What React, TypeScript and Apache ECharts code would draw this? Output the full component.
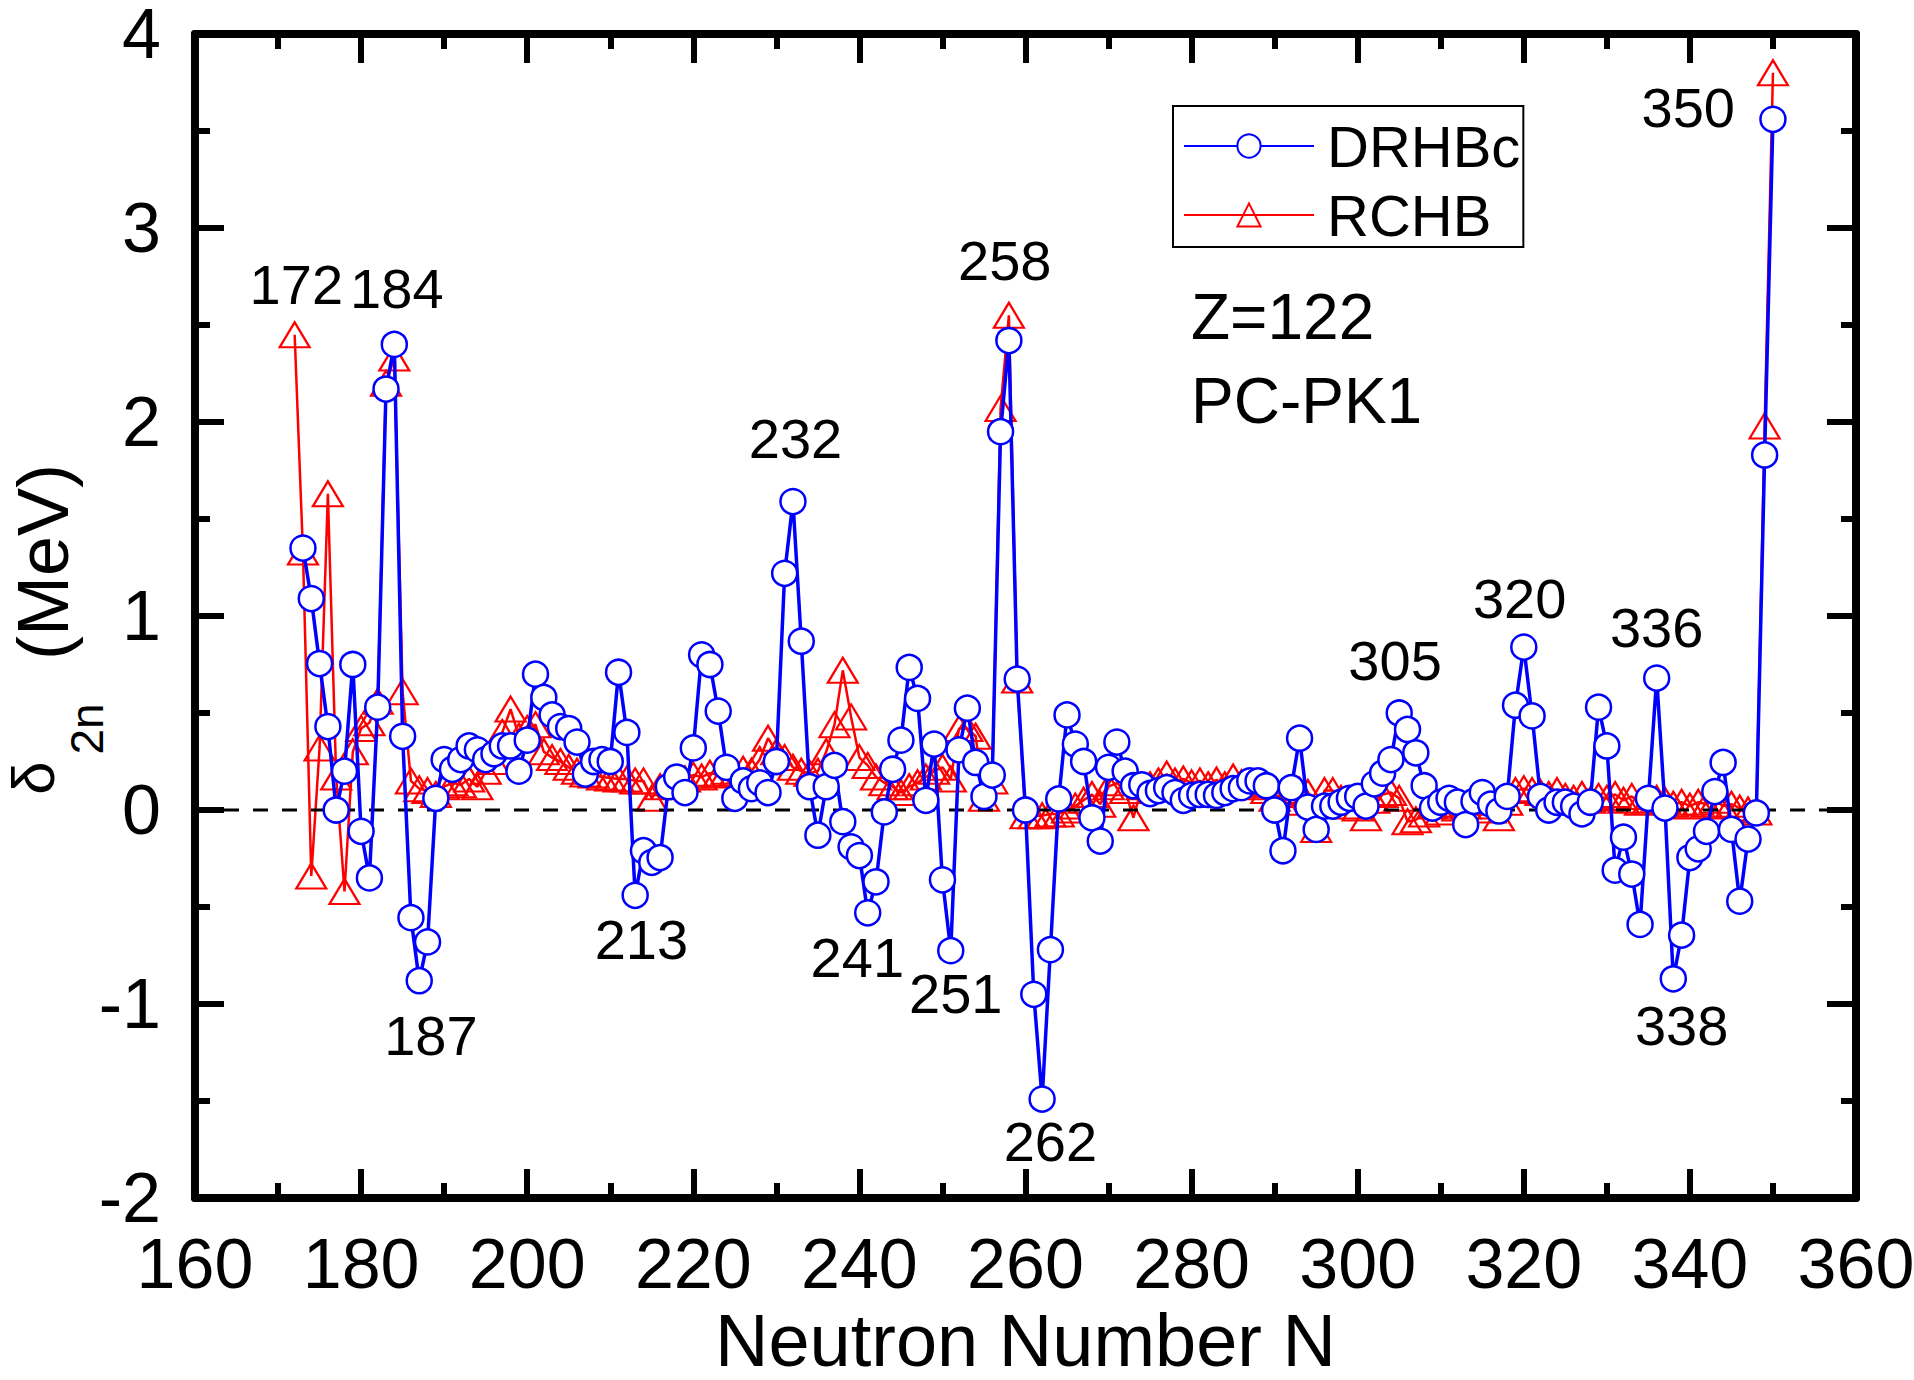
import React, { useEffect, useRef } from "react";
import * as echarts from "echarts";

const FONT = "'Liberation Sans', Arial, Helvetica, sans-serif";

// delta_2n (MeV) for Z=122, one value per neutron number
const drhbcFirstN = 173;
const drhbcValues = [
  1.35, 1.09, 0.755, 0.43, 0.0, 0.2, 0.75, -0.11, -0.35, 0.53, // 173-182
  2.17, 2.4, 0.38, -0.555, -0.88, -0.68, 0.06, 0.26, 0.21, 0.26, // 183-192
  0.33, 0.31, 0.26, 0.29, 0.33, 0.33, 0.2, 0.36, 0.7, 0.58, // 193-202
  0.49, 0.43, 0.42, 0.35, 0.185, 0.25, 0.26, 0.25, 0.71, 0.4, // 203-212
  -0.44, -0.21, -0.27, -0.245, 0.12, 0.17, 0.09, 0.32, 0.8, 0.75, // 213-222
  0.51, 0.22, 0.06, 0.15, 0.11, 0.14, 0.09, 0.25, 1.22, 1.59, // 223-232
  0.87, 0.12, -0.13, 0.12, 0.23, -0.06, -0.19, -0.235, -0.53, -0.37, // 233-242
  -0.01, 0.21, 0.36, 0.735, 0.575, 0.05, 0.34, -0.36, -0.725, 0.31, // 243-252
  0.525, 0.245, 0.07, 0.18, 1.95, 2.42, 0.675, 0.0, -0.95, -1.49, // 253-262
  -0.72, 0.057, 0.49, 0.34, 0.25, -0.04, -0.16, 0.22, 0.35, 0.2, // 263-272
  0.125, 0.13, 0.085, 0.1, 0.115, 0.09, 0.05, 0.075, 0.08, 0.08, // 273-282
  0.075, 0.09, 0.11, 0.115, 0.15, 0.15, 0.125, 0.0, -0.21, 0.115, // 283-292
  0.37, 0.015, -0.1, 0.02, 0.02, 0.04, 0.06, 0.07, 0.02, 0.135, // 293-302
  0.19, 0.26, 0.5, 0.415, 0.295, 0.125, 0.01, 0.04, 0.06, 0.04, // 303-312
  -0.075, 0.045, 0.09, 0.03, -0.005, 0.07, 0.54, 0.84, 0.485, 0.07, // 313-322
  0.0, 0.04, 0.04, 0.02, -0.02, 0.04, 0.53, 0.33, -0.31, -0.14, // 323-332
  -0.33, -0.59, 0.06, 0.68, 0.01, -0.87, -0.645, -0.245, -0.2, -0.11, // 333-342
  0.095, 0.245, -0.1, -0.47, -0.15, -0.015, 1.83, 3.56, // 343-350
];

const rchbFirstN = 172;
const rchbValues = [
  2.45, 1.33, -0.34, 0.32, 1.63, 0.17, -0.42, 0.3, 0.42, 0.45, // 172-181
  0.56, 2.2, 2.33, 0.61, 0.15, 0.11, 0.1, 0.08, 0.12, 0.14, // 182-191
  0.13, 0.16, 0.12, 0.2, 0.25, 0.4, 0.52, 0.38, 0.42, 0.44, // 192-201
  0.3, 0.27, 0.25, 0.22, 0.2, 0.185, 0.18, 0.17, 0.165, 0.16, // 202-211
  0.16, 0.15, 0.15, 0.06, 0.12, 0.14, 0.15, 0.16, 0.18, 0.17, // 212-221
  0.19, 0.18, 0.2, 0.19, 0.21, 0.2, 0.26, 0.37, 0.3, 0.27, // 222-231
  0.22, 0.2, 0.19, 0.2, 0.3, 0.44, 0.72, 0.48, 0.27, 0.23, // 232-241
  0.17, 0.14, 0.12, 0.09, 0.12, 0.14, 0.17, 0.2, 0.22, 0.16, // 242-251
  0.42, 0.42, 0.38, 0.06, 0.15, 2.07, 2.55, 0.67, -0.03, -0.03, // 252-261
  -0.03, -0.02, -0.02, 0.0, 0.02, 0.05, 0.08, 0.03, 0.12, 0.14, // 262-271
  0.1, -0.04, 0.12, 0.13, 0.15, 0.185, 0.15, 0.16, 0.14, 0.15, // 272-281
  0.13, 0.155, 0.13, 0.17, 0.14, 0.13, 0.12, 0.1, 0.06, 0.04, // 282-291
  0.08, 0.1, 0.09, -0.1, 0.1, 0.1, 0.06, 0.02, 0.01, -0.04, // 292-301
  0.05, 0.08, 0.09, 0.06, -0.06, -0.05, -0.02, 0.02, -0.01, 0.03, // 302-311
  0.01, 0.02, 0.02, 0.04, 0.0, -0.04, 0.04, 0.1, 0.11, 0.1, // 312-321
  0.09, 0.08, 0.1, 0.07, 0.06, 0.08, 0.05, 0.07, 0.06, 0.08, // 322-331
  0.05, 0.07, 0.04, 0.05, 0.06, 0.05, 0.03, 0.04, 0.02, 0.04, // 332-341
  0.03, 0.05, 0.02, 0.03, 0.01, 0.0, -0.01, 1.98, 3.8, // 342-350
];

// [N, delta, text] anchors of the magic-number annotations
const peakLabels: [number, number, string][] = [
  [172.2, 2.71, "172"],
  [184.3, 2.69, "184"],
  [188.4, -1.16, "187"],
  [213.75, -0.665, "213"],
  [232.3, 1.915, "232"],
  [239.75, -0.76, "241"],
  [251.6, -0.945, "251"],
  [257.5, 2.83, "258"],
  [263.0, -1.71, "262"],
  [304.5, 0.77, "305"],
  [319.5, 1.09, "320"],
  [336.0, 0.94, "336"],
  [339.0, -1.11, "338"],
  [339.8, 3.62, "350"],
];

const zeroLine = [
  [160, 0],
  [360, 0],
];

const toPairs = (firstN: number, values: number[]) =>
  values.map((v, i) => [firstN + i, v]);

const frameAxis = (showLabel: boolean) => ({
  axisLine: { show: true, onZero: false, lineStyle: { color: "#000", width: 8 } },
  axisTick: { show: true, inside: true, length: 29, lineStyle: { color: "#000", width: 6 } },
  minorTick: { show: true, splitNumber: 2, length: 15, lineStyle: { color: "#000", width: 6 } },
  splitLine: { show: false },
  minorSplitLine: { show: false },
  axisLabel: {
    show: showLabel,
    color: "#000",
    fontSize: 70,
    fontFamily: FONT,
  },
});

const rotatedText = (text: string, size: number, x: number, y: number) => ({
  type: "text",
  x,
  y,
  rotation: Math.PI / 2,
  style: {
    text,
    font: `${size}px ${FONT}`,
    lineHeight: Math.round(size * 0.8),
    fill: "#000",
    align: "center",
    verticalAlign: "middle",
    textAlign: "center",
    textVerticalAlign: "middle",
  },
});

const plainText = (text: string, size: number, x: number, y: number) => ({
  type: "text",
  x,
  y,
  style: {
    text,
    font: `${size}px ${FONT}`,
    fill: "#000",
    align: "left",
    verticalAlign: "middle",
    textAlign: "left",
    textVerticalAlign: "middle",
  },
});

const App: React.FC = () => {
  const chartRef = useRef<HTMLDivElement>(null);

  useEffect(() => {
    document.body.style.margin = "0";
    if (!chartRef.current) return;
    const chart = echarts.init(chartRef.current, undefined, { renderer: "svg" });

    const base = frameAxis(true);
    const mirror = frameAxis(false);

    chart.setOption({
      animation: false,
      backgroundColor: "#fff",
      grid: { left: 195, right: 58, top: 34, bottom: 182, containLabel: false, outerBoundsMode: "none" },
      legend: {
        data: ["DRHBc", "RCHB"],
        orient: "vertical",
        left: 1173,
        top: 106,
        padding: [10, 3, 2, 10],
        itemWidth: 130,
        itemHeight: 29,
        itemGap: 9,
        borderColor: "#000",
        borderWidth: 2,
        backgroundColor: "#fff",
        selectedMode: false,
        textStyle: {
          fontSize: 58,
          fontFamily: FONT,
          color: "#000",
          lineHeight: 60,
          padding: [0, 0, 0, 8],
        },
      },
      xAxis: [
        {
          type: "value",
          min: 160,
          max: 360,
          interval: 20,
          position: "bottom",
          ...base,
          axisLabel: { ...base.axisLabel, margin: 31 },
          name: "Neutron Number N",
          nameLocation: "middle",
          nameGap: 111,
          nameTextStyle: { fontSize: 74, lineHeight: 62, fontFamily: FONT, color: "#000" },
        },
        {
          type: "value",
          min: 160,
          max: 360,
          interval: 20,
          position: "top",
          ...mirror,
        },
      ],
      yAxis: [
        {
          type: "value",
          min: -2,
          max: 4,
          interval: 1,
          position: "left",
          ...base,
          axisLabel: { ...base.axisLabel, margin: 34, lineHeight: 56 },
        },
        {
          type: "value",
          min: -2,
          max: 4,
          interval: 1,
          position: "right",
          ...mirror,
        },
      ],
      graphic: [
        rotatedText("δ", 60, 33, 778),
        rotatedText("2n", 46, 87, 729),
        rotatedText("(MeV)", 72, 43, 562),
        plainText("Z=122", 64, 1191, 317),
        plainText("PC-PK1", 64, 1191, 401),
      ],
      series: [
        {
          name: "RCHB",
          type: "line",
          data: toPairs(rchbFirstN, rchbValues),
          color: "#ff0000",
          symbol: "triangle",
          symbolSize: [30, 25],
          lineStyle: { color: "#ff0000", width: 2.5 },
          itemStyle: { color: "rgba(255,255,255,0)", borderColor: "#ff0000", borderWidth: 2.2 },
          z: 2,
        },
        {
          name: "zero",
          type: "line",
          data: zeroLine,
          symbol: "none",
          silent: true,
          lineStyle: { color: "#000", width: 2.8, type: [15, 14] },
          z: 3,
        },
        {
          name: "DRHBc",
          type: "line",
          data: toPairs(drhbcFirstN, drhbcValues),
          color: "#0000ff",
          symbol: "circle",
          symbolSize: 25,
          lineStyle: { color: "#0000ff", width: 3.5 },
          itemStyle: { color: "#ffffff", borderColor: "#0000ff", borderWidth: 2.5 },
          z: 4,
        },
        {
          name: "labels",
          type: "scatter",
          data: peakLabels,
          symbolSize: 1,
          silent: true,
          itemStyle: { color: "rgba(255,255,255,0)", opacity: 1 },
          label: {
            show: true,
            position: "inside",
            formatter: (p: any) => p.data[2],
            fontSize: 56,
            fontFamily: FONT,
            color: "#000",
            opacity: 1,
            textBorderWidth: 0,
          },
          z: 5,
        },
      ],
    });

    return () => {
      chart.dispose();
    };
  }, []);

  return <div ref={chartRef} style={{ width: 1914, height: 1380 }} />;
};

export default App;
